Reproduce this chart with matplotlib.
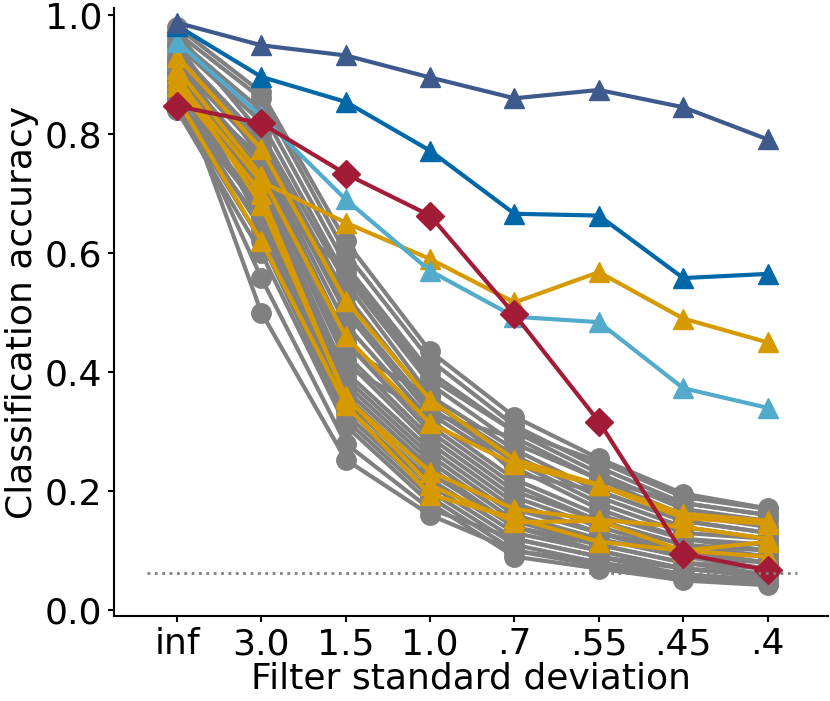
import numpy as np
import matplotlib
matplotlib.use("Agg")
import matplotlib.pyplot as plt

# x categories (filter standard deviation)
sigmas = ["inf", "3.0", "1.5", "1.0", ".7", ".55", ".45", ".4"]
chance = 1 / 16

# grey: the bulk of the models
grey_runs = [
    [0.98, 0.87, 0.62, 0.435, 0.325, 0.255, 0.196, 0.171],
    [0.97, 0.86, 0.60, 0.42, 0.31, 0.24, 0.18, 0.16],
    [0.96, 0.84, 0.58, 0.40, 0.30, 0.23, 0.17, 0.15],
    [0.95, 0.82, 0.56, 0.38, 0.28, 0.22, 0.16, 0.14],
    [0.97, 0.80, 0.55, 0.36, 0.27, 0.20, 0.15, 0.13],
    [0.94, 0.79, 0.53, 0.35, 0.26, 0.19, 0.14, 0.12],
    [0.93, 0.78, 0.51, 0.34, 0.25, 0.18, 0.13, 0.12],
    [0.92, 0.77, 0.50, 0.33, 0.24, 0.17, 0.12, 0.11],
    [0.95, 0.76, 0.48, 0.32, 0.22, 0.16, 0.12, 0.10],
    [0.91, 0.75, 0.46, 0.31, 0.21, 0.15, 0.11, 0.10],
    [0.90, 0.74, 0.45, 0.30, 0.20, 0.15, 0.11, 0.09],
    [0.89, 0.73, 0.43, 0.29, 0.19, 0.14, 0.10, 0.09],
    [0.93, 0.72, 0.42, 0.28, 0.18, 0.13, 0.10, 0.08],
    [0.88, 0.71, 0.40, 0.27, 0.17, 0.13, 0.09, 0.08],
    [0.87, 0.70, 0.39, 0.26, 0.16, 0.12, 0.09, 0.07],
    [0.90, 0.69, 0.38, 0.25, 0.15, 0.11, 0.08, 0.07],
    [0.86, 0.68, 0.37, 0.24, 0.14, 0.11, 0.08, 0.06],
    [0.85, 0.67, 0.36, 0.23, 0.14, 0.10, 0.07, 0.06],
    [0.88, 0.66, 0.35, 0.22, 0.13, 0.10, 0.07, 0.055],
    [0.84, 0.65, 0.34, 0.21, 0.12, 0.09, 0.06, 0.05],
    [0.86, 0.64, 0.33, 0.20, 0.11, 0.08, 0.06, 0.05],
    [0.85, 0.62, 0.32, 0.19, 0.10, 0.075, 0.055, 0.045],
    [0.84, 0.60, 0.31, 0.18, 0.09, 0.07, 0.05, 0.042],
    [0.87, 0.558, 0.28, 0.17, 0.12, 0.09, 0.07, 0.06],
    [0.89, 0.50, 0.253, 0.16, 0.10, 0.08, 0.06, 0.05],
    [0.91, 0.65, 0.41, 0.33, 0.29, 0.22, 0.18, 0.16],
    [0.92, 0.70, 0.57, 0.39, 0.30, 0.25, 0.19, 0.17],
    [0.89, 0.76, 0.44, 0.36, 0.23, 0.20, 0.15, 0.13],
]

# orange: second group of models
orange_runs = [
    [0.89, 0.72, 0.651, 0.59, 0.517, 0.568, 0.49, 0.45],
    [0.93, 0.775, 0.52, 0.354, 0.253, 0.211, 0.162, 0.150],
    [0.91, 0.73, 0.46, 0.314, 0.245, 0.21, 0.155, 0.145],
    [0.88, 0.70, 0.355, 0.233, 0.17, 0.152, 0.14, 0.12],
    [0.86, 0.62, 0.345, 0.194, 0.155, 0.115, 0.10, 0.09],
    [0.90, 0.68, 0.36, 0.21, 0.148, 0.15, 0.10, 0.115],
]

light_blue = [0.955, 0.83, 0.69, 0.570, 0.493, 0.484, 0.373, 0.340]
blue = [0.982, 0.896, 0.854, 0.772, 0.666, 0.663, 0.558, 0.565]
navy = [0.987, 0.949, 0.932, 0.895, 0.860, 0.874, 0.845, 0.791]
crimson = [0.847, 0.818, 0.733, 0.663, 0.497, 0.317, 0.095, 0.067]

GREY = "#808080"
ORANGE = "#d69a00"
LIGHT_BLUE = "#52abcb"
BLUE = "#0068a8"
NAVY = "#3e5a8c"
CRIMSON = "#a31c37"

plt.rcParams["font.family"] = ["DejaVu Sans"]
fig = plt.figure(figsize=(8.3, 7.01), dpi=100)
ax = fig.add_axes([0.137, 0.121, 0.861, 0.867])

x = np.arange(len(sigmas))
lw, ms = 3, 15

for run in grey_runs:
    ax.plot(x, run, "-o", color=GREY, lw=lw, ms=ms - 1)
for run in orange_runs:
    ax.plot(x, run, "-^", color=ORANGE, lw=lw, ms=ms)
ax.plot(x, light_blue, "-^", color=LIGHT_BLUE, lw=lw, ms=ms)
ax.plot(x, blue, "-^", color=BLUE, lw=lw, ms=ms)
ax.plot(x, navy, "-^", color=NAVY, lw=lw, ms=ms)
ax.plot(x, crimson, "-D", color=CRIMSON, lw=lw, ms=ms - 1)

ax.hlines(chance, -0.35, 7.35, colors=GREY, linestyles=":", lw=2)

ax.set_xticks(x)
ax.set_xticklabels(sigmas)
ax.set_yticks([0.0, 0.2, 0.4, 0.6, 0.8, 1.0])
ax.set_xlim(-0.75, 7.72)
ax.set_ylim(-0.010, 1.011)
ax.tick_params(labelsize=26, width=1.5, length=4.5)
ax.set_xlabel("Filter standard deviation", fontsize=26, labelpad=0)
ax.set_ylabel("Classification accuracy", fontsize=26, labelpad=4)
for side in ["top", "right"]:
    ax.spines[side].set_visible(False)
for side in ["left", "bottom"]:
    ax.spines[side].set_linewidth(1.5)

fig.savefig("out.png", dpi=100)
